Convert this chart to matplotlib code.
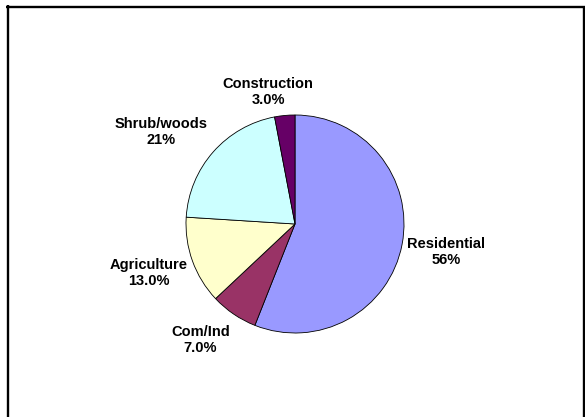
import matplotlib
matplotlib.use("Agg")
import matplotlib.pyplot as plt
from matplotlib import font_manager

# land use shares (percent), clockwise from 12 o'clock
categories = ["Residential", "Com/Ind", "Agriculture", "Shrub/woods", "Construction"]
shares = [56, 7, 13, 21, 3]
share_text = ["56%", "7.0%", "13.0%", "21%", "3.0%"]
colors = ["#9999FF", "#993366", "#FFFFCC", "#CCFFFF", "#660066"]

# pick the regular-width bold Liberation Sans (not the Narrow cut)
bold_file = None
for f in font_manager.findSystemFonts():
    if f.endswith("LiberationSans-Bold.ttf"):
        bold_file = f
        break
if bold_file:
    label_font = font_manager.FontProperties(fname=bold_file, size=10.5)
else:
    label_font = font_manager.FontProperties(family="DejaVu Sans", weight="bold", size=9.5)

W, H = 585, 417
fig = plt.figure(figsize=(W / 100, H / 100), dpi=100)
ax = fig.add_axes([0, 0, 1, 1])

cx, cy, r = 295, H - 224, 109
ax.pie(shares, colors=colors, startangle=90, counterclock=False,
       center=(cx, cy), radius=r, frame=True,
       wedgeprops=dict(edgecolor="black", linewidth=0.6))
ax.set_xlim(0, W)
ax.set_ylim(0, H)
ax.set_aspect("equal")
ax.axis("off")

# label anchor points (pixels from top-left)
label_pos = [(446.5, 252), (200.5, 340), (148.5, 273), (161, 132), (268, 92)]
for name, pct, (x, y) in zip(categories, share_text, label_pos):
    ax.text(x, H - y, f"{name}\n{pct}", ha="center", va="center",
            fontproperties=label_font, linespacing=1.2)

# chart area border (top, left, right)
ax.plot([6, W], [H - 6.5, H - 6.5], color="black", lw=1.7, solid_capstyle="butt")
ax.plot([7.5, 7.5], [H - 5, 0], color="black", lw=1.7, solid_capstyle="butt")
ax.plot([584, 584], [H - 6, 0], color="black", lw=1.7, solid_capstyle="butt")

fig.savefig("out.png", dpi=100)
